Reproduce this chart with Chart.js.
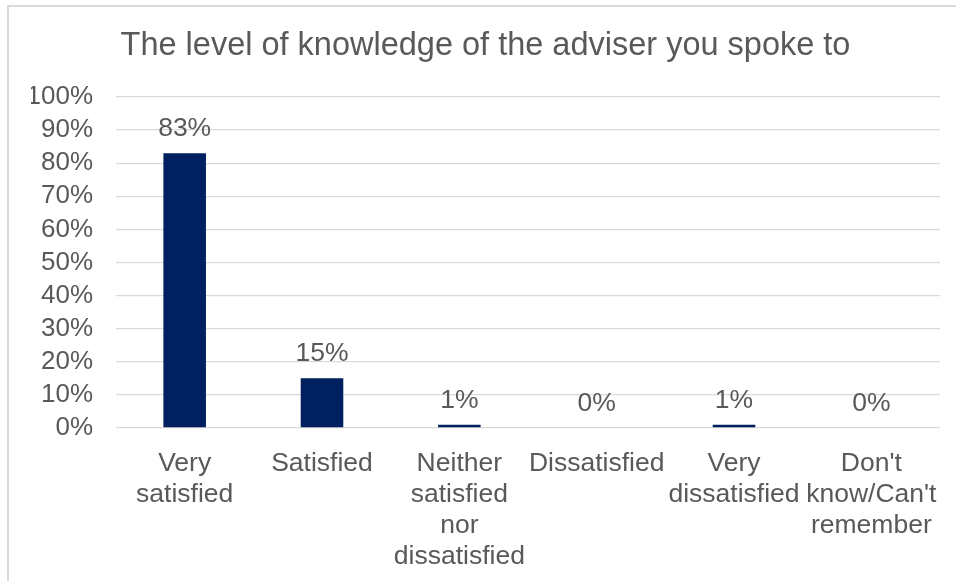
<!DOCTYPE html>
<html>
<head>
<meta charset="utf-8">
<script src="https://cdn.jsdelivr.net/npm/chart.js@4/dist/chart.umd.min.js"></script>
<style>
  html, body { margin: 0; padding: 0; background: #ffffff; }
  #wrap { position: relative; width: 956px; height: 581px; }
</style>
</head>
<body>
<div id="wrap"><canvas id="barChart"></canvas></div>
<script>
// Survey answers and share of respondents (%)
const categories = [
    ['Very', 'satisfied'],
    'Satisfied',
    ['Neither', 'satisfied', 'nor', 'dissatisfied'],
    'Dissatisfied',
    ['Very', 'dissatisfied'],
    ['Don\'t', 'know/Can\'t', 'remember']
];
const shares = [83, 15, 1, 0, 1, 0];
const tickValues = [0, 10, 20, 30, 40, 50, 60, 70, 80, 90, 100];

const textGrey = '#595959';
const fontFamily = '"Liberation Sans", Arial, sans-serif';

// Light frame around the chart
const framePlugin = {
    id: 'frame',
    beforeDraw(chart) {
        const ctx = chart.ctx;
        ctx.save();
        ctx.strokeStyle = '#d9d9d9';
        ctx.lineWidth = 2;
        ctx.strokeRect(8, 6, chart.width + 20, chart.height + 20);
        ctx.restore();
    }
};

// Percentage label above each bar
const valueLabels = {
    id: 'valueLabels',
    afterDatasetsDraw(chart) {
        const ctx = chart.ctx;
        const meta = chart.getDatasetMeta(0);
        ctx.save();
        ctx.font = '26.5px ' + fontFamily;
        ctx.fillStyle = textGrey;
        ctx.textAlign = 'center';
        ctx.textBaseline = 'alphabetic';
        meta.data.forEach((bar, i) => {
            ctx.fillText(shares[i] + '%', bar.x, bar.y - 17);
        });
        ctx.restore();
    }
};

const barCtx = document.getElementById('barChart').getContext('2d');
const barChart = new Chart(barCtx, {
    type: 'bar',
    data: {
        labels: categories,
        datasets: [{
            data: shares,
            backgroundColor: '#002060',
            barPercentage: 0.31,
            categoryPercentage: 1
        }]
    },
    options: {
        responsive: true,
        maintainAspectRatio: false,
        animation: false,
        layout: {
            padding: { left: 31, right: 16, top: 0, bottom: 0 }
        },
        plugins: {
            legend: { display: false },
            tooltip: { enabled: false },
            title: {
                display: true,
                text: 'The level of knowledge of the adviser you spoke to',
                color: textGrey,
                font: { family: fontFamily, size: 32.5, weight: 'normal' },
                padding: { top: 27, bottom: 31 }
            }
        },
        scales: {
            x: {
                grid: { display: false },
                border: { display: false },
                ticks: {
                    color: textGrey,
                    font: { family: fontFamily, size: 26.5, lineHeight: 1.17 },
                    padding: 12,
                    maxRotation: 0,
                    autoSkip: false
                },
                afterFit(scale) { scale.height = 581 - 428; }
            },
            y: {
                min: 0,
                max: 100,
                afterBuildTicks(scale) {
                    scale.ticks = tickValues.map(v => ({ value: v }));
                },
                grid: { color: '#d9d9d9', lineWidth: 1.3, drawTicks: false },
                border: { display: false },
                ticks: {
                    color: textGrey,
                    font: { family: fontFamily, size: 26 },
                    padding: 23,
                    autoSkip: false,
                    callback: v => v + '%'
                },
                afterFit(scale) { scale.width = 85; }
            }
        }
    },
    plugins: [framePlugin, valueLabels]
});
</script>
</body>
</html>
